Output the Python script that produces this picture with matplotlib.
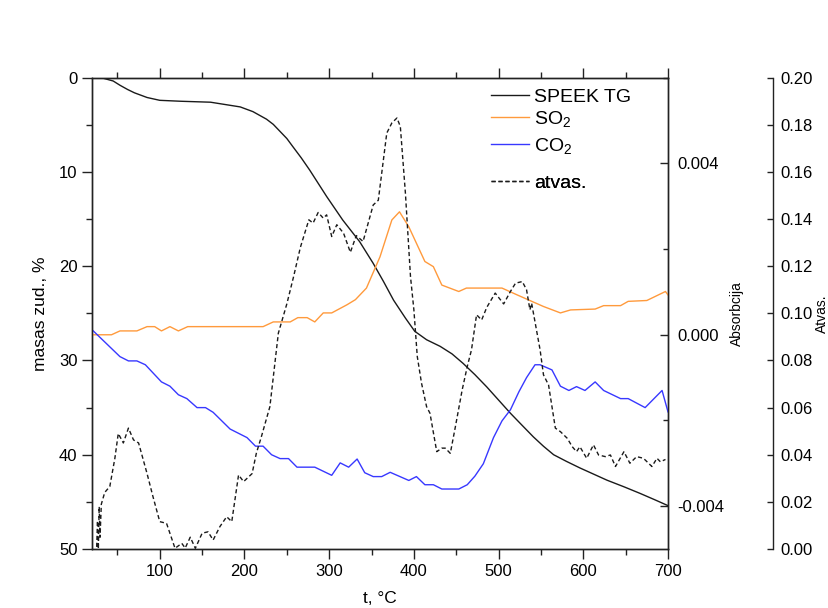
import matplotlib
matplotlib.use('Agg')
import matplotlib.pyplot as plt
from matplotlib.ticker import MultipleLocator, FormatStrFormatter

plt.rcParams['font.family'] = ['Liberation Sans', 'DejaVu Sans']
plt.rcParams['axes.unicode_minus'] = False
plt.rcParams['mathtext.default'] = 'regular'

# ---- data ----
tg_t = [22, 33, 45, 53, 62, 70, 85, 100, 125, 160, 195, 210, 218, 226, 234, 242, 250, 257, 267,
        277, 297, 316, 336, 352, 364, 376, 390, 401, 415, 431, 445, 458, 472, 486, 500, 514,
        528, 541, 553, 565, 580, 596, 612, 628, 648, 667, 685, 700]
tg_v = [0.0, 0.05, 0.35, 0.8, 1.25, 1.6, 2.1, 2.4, 2.5, 2.6, 3.1, 3.6, 4.0, 4.4, 4.95, 5.7,
        6.45, 7.3, 8.5, 9.8, 12.6, 15.1, 17.4, 19.7, 21.6, 23.6, 25.5, 26.9, 27.8, 28.5, 29.3,
        30.3, 31.5, 32.8, 34.2, 35.6, 36.9, 38.1, 39.1, 40.0, 40.7, 41.4, 42.05, 42.7, 43.4,
        44.1, 44.8, 45.4]

so2_t = [21.5, 43, 53, 73, 85, 94, 102, 112, 122, 133, 222, 234, 254, 263, 274, 283, 293, 303,
         321, 331, 344, 360, 374, 383, 394, 413, 423, 433, 453, 462, 504, 522, 553, 573, 585,
         614, 624, 644, 653, 675, 697, 700]
so2_v = [0, 0, 0.00009, 0.00009, 0.00019, 0.00019, 0.00009, 0.00019, 0.00009, 0.00019, 0.00019,
         0.0003, 0.0003, 0.0004, 0.0004, 0.0003, 0.00051, 0.00051, 0.0007, 0.00082, 0.00109,
         0.00182, 0.00268, 0.00287, 0.00252, 0.00171, 0.00159, 0.00116, 0.00101, 0.00109,
         0.00109, 0.00093, 0.00066, 0.00051, 0.00058, 0.0006, 0.00068, 0.00068, 0.00078,
         0.0008, 0.00101, 0.00093]

co2_t = [21.5, 53, 63, 73, 83, 102, 112, 122, 132, 144, 154, 163, 183, 193, 203, 213, 222, 232,
         242, 252, 262, 283, 303, 313, 323, 333, 342, 352, 362, 372, 394, 403, 413, 423, 433,
         453, 463, 472, 482, 494, 504, 514, 524, 533, 543, 549, 563, 573, 583, 592, 602, 614,
         624, 644, 653, 673, 693, 700]
co2_v = [0.00009, -0.00051, -0.00061, -0.00061, -0.0007, -0.0011, -0.0012, -0.0014, -0.00149,
         -0.0017, -0.0017, -0.00181, -0.0022, -0.0023, -0.0024, -0.0026, -0.0026, -0.0028,
         -0.00289, -0.00289, -0.00309, -0.00309, -0.00328, -0.00299, -0.00309, -0.0029,
         -0.00322, -0.00331, -0.00331, -0.00321, -0.0034, -0.00331, -0.0035, -0.0035, -0.0036,
         -0.0036, -0.0035, -0.0033, -0.00301, -0.0024, -0.00201, -0.00175, -0.00133, -0.001,
         -0.0007, -0.0007, -0.00082, -0.0012, -0.0013, -0.00121, -0.0013, -0.0011, -0.0013,
         -0.00149, -0.00149, -0.0017, -0.0013, -0.0018]

dt_t = [25, 26.5, 27.5, 28.5, 29.5, 31, 35, 41, 47, 51, 57, 63, 69, 75, 85, 92, 100, 108, 118,
        126, 130, 136, 142, 150, 157, 163, 171, 179, 185, 193, 199, 209, 214, 220, 230, 240,
        250, 258, 266, 276, 281, 287, 293, 297, 303, 309, 317, 325, 332, 340, 352, 358, 368,
        374, 380, 384, 390, 396, 400, 404, 409, 415, 419, 427, 433, 437, 443, 449, 457, 463,
        468, 474, 480, 486, 496, 506, 514, 520, 528, 533, 537, 539, 549, 553, 559, 567, 573,
        581, 587, 592, 596, 604, 612, 618, 626, 632, 638, 648, 655, 663, 671, 681, 687, 691,
        697]
dt_v = [-0.005, 0.012, 0.0, 0.018, 0.005, 0.019, 0.024, 0.0265, 0.0385, 0.049, 0.045, 0.0513,
        0.0463, 0.045, 0.032, 0.0222, 0.0116, 0.0109, 0.0003, 0.0024, 0.0004, 0.005, 0.0003,
        0.0067, 0.0073, 0.0038, 0.0095, 0.0137, 0.0116, 0.0314, 0.0286, 0.032, 0.0406, 0.0477,
        0.0604, 0.0916, 0.104, 0.1156, 0.128, 0.1397, 0.1383, 0.1428, 0.1404, 0.1418, 0.1326,
        0.1376, 0.134, 0.1259, 0.133, 0.1305, 0.146, 0.148, 0.1765, 0.1808, 0.1829, 0.1793,
        0.151, 0.1156, 0.1015, 0.0817, 0.0704, 0.0604, 0.0576, 0.0413, 0.0428, 0.0428, 0.0406,
        0.0519, 0.0675, 0.0774, 0.0845, 0.0994, 0.0972, 0.1025, 0.1086, 0.104, 0.1093, 0.1128,
        0.1135, 0.11, 0.1015, 0.1043, 0.0845, 0.0739, 0.0696, 0.0513, 0.0498, 0.047, 0.0434,
        0.0413, 0.0434, 0.0385, 0.0442, 0.0399, 0.0392, 0.0399, 0.035, 0.0413, 0.0364, 0.0392,
        0.0385, 0.035, 0.0385, 0.037, 0.038]

labels = ['SPEEK TG', 'SO$_2$', 'CO$_2$', 'atvas.']

# ---- figure ----
W, H = 829, 608
fig = plt.figure(figsize=(W / 100, H / 100), dpi=100)
L, R, T, B = 92, 668, 77.7, 549
ax = fig.add_axes([L / W, 1 - B / H, (R - L) / W, (B - T) / H])

spine_c = '#222222'
for s in ax.spines.values():
    s.set_color(spine_c)
    s.set_linewidth(1.0)

l1, = ax.plot(tg_t, tg_v, color='#1a1a1a', lw=1.0)
ax.set_xlim(20, 700)
ax.set_ylim(50, 0)
ax.xaxis.set_major_locator(MultipleLocator(100))
ax.xaxis.set_minor_locator(MultipleLocator(50))
ax.yaxis.set_major_locator(MultipleLocator(10))
ax.yaxis.set_minor_locator(MultipleLocator(5))
ax.tick_params(which='both', direction='out', top=True, right=False, labelsize=12,
               color=spine_c, width=1.0)
ax.tick_params(which='major', length=7)
ax.tick_params(which='minor', length=4)
ax.set_ylabel('masas zud., %', fontsize=12.5, labelpad=8)
ax.set_xlabel('t, °C', fontsize=12.5, labelpad=9)

ax2 = ax.twinx()
for s in ax2.spines.values():
    s.set_color(spine_c)
    s.set_linewidth(1.0)
l2, = ax2.plot(so2_t, so2_v, color='#FF9A3C', lw=1.0)
l3, = ax2.plot(co2_t, co2_v, color='#3838FF', lw=1.0)
ax2.set_ylim(-0.005, 0.006)
ax2.yaxis.set_major_locator(MultipleLocator(0.004))
ax2.yaxis.set_minor_locator(MultipleLocator(0.002))
ax2.yaxis.set_major_formatter(FormatStrFormatter('%.3f'))
ax2.tick_params(axis='y', which='both', direction='in', labelsize=12, pad=7,
                color=spine_c, width=1.0)
ax2.tick_params(axis='y', which='major', length=6)
ax2.tick_params(axis='y', which='minor', length=3.5)
ax2.set_ylabel('Absorbcija', fontsize=10, labelpad=4)

ax3 = ax.twinx()
for k in ['top', 'bottom', 'left']:
    ax3.spines[k].set_visible(False)
ax3.spines['right'].set_position(('axes', (773 - L) / (R - L)))
ax3.spines['right'].set_color(spine_c)
ax3.spines['right'].set_linewidth(1.0)
l4, = ax3.plot(dt_t, dt_v, color='#1a1a1a', lw=1.0, linestyle=(0, (3, 2)))
ax3.set_ylim(0, 0.2)
ax3.yaxis.set_major_locator(MultipleLocator(0.02))
ax3.yaxis.set_major_formatter(FormatStrFormatter('%.2f'))
ax3.tick_params(axis='y', which='both', direction='in', labelsize=12, pad=5, length=4,
                color=spine_c, width=1.0)
ax3.set_ylabel('Atvas.', fontsize=10, labelpad=2)

# legend rows (one legend per row to reproduce the uneven spacing)
row_px = [97, 119, 146, 183]
for h, lab, yp in zip([l1, l2, l3, l4], labels, row_px):
    lg = ax3.legend([h], [lab], loc='center left',
                    bbox_to_anchor=((491 - L) / (R - L), 1 - (yp - T) / (B - T)),
                    frameon=False, fontsize=14, handlelength=1.95, handletextpad=0.25,
                    borderpad=0, borderaxespad=0)
    ax3.add_artist(lg)

fig.savefig('out.png', dpi=100, facecolor='white')
